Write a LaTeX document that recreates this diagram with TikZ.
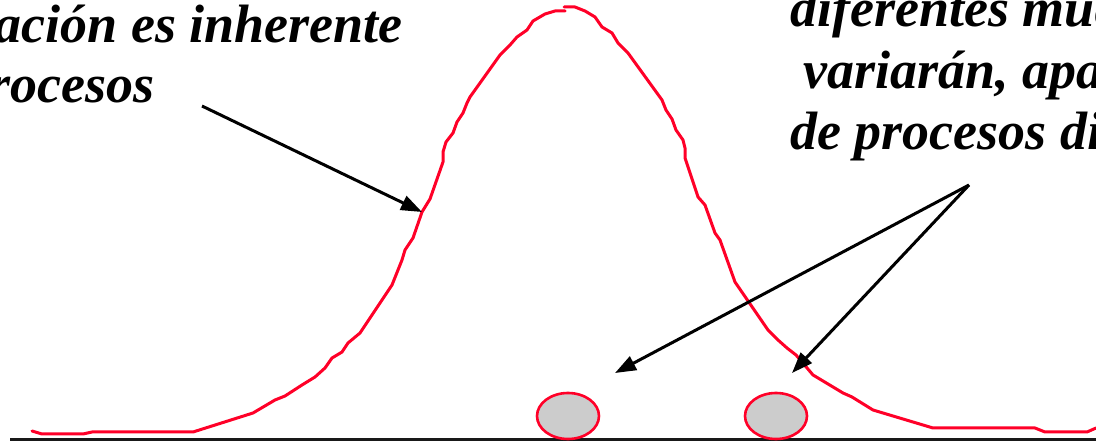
\documentclass[tikz,border=0pt]{standalone}
\usepackage{fontspec}
\setmainfont{Liberation Serif}
\usetikzlibrary{arrows.meta,shapes.geometric}
\definecolor{curvered}{RGB}{255,0,40}
\definecolor{dotgray}{RGB}{204,204,204}
\tikzset{
  lbl/.style={inner sep=0pt,font=\fontsize{54}{60}\selectfont\bfseries\itshape},
  pointer/.style={line width=3pt,draw=black,-{Triangle[length=21pt,width=15pt]}},
  dist/.style={draw=curvered,line width=3pt,line join=round,line cap=round},
  sample/.style={ellipse,draw=curvered,fill=dotgray,line width=2.6pt,minimum width=62pt,minimum height=46pt,inner sep=0pt},
  axis/.style={line width=3pt,draw=black!90}
}
\begin{document}
\begin{tikzpicture}[x=1pt,y=-1pt]
\useasboundingbox (0,0) rectangle (1096,446);
\clip (0,0) rectangle (1096,446);
\fill[white] (0,0) rectangle (1096,446);

% axis
\coordinate (ax1) at (10,440);
\coordinate (ax2) at (1096,440);
\draw[axis] (ax1) -- (ax2);

% distribution curve
\draw[dist] (32,431) -- (42,434) -- (83,434) -- (92,432) -- (193,432) -- (253,413) -- (275,400) -- (285,396) -- (302,385) -- (315,377) -- (325,368) -- (332,358) -- (342,352) -- (348,343) -- (360,333) -- (372,315) -- (392,285) -- (402,260) -- (405,250) -- (413,238) -- (422,212) -- (430,199) -- (443,162) -- (443,152) -- (446,142) -- (453,133) -- (457,122) -- (463,113) -- (467,103) -- (470,97) -- (500,55) -- (510,45) -- (517,37) -- (527,30) -- (533,21) -- (545,14) -- (555,11) -- (565,11);
\draw[dist] (564,7) -- (575,7) -- (585,11) -- (595,17) -- (602,27) -- (612,33) -- (618,43) -- (628,53) -- (662,100) -- (666,110) -- (672,119) -- (676,130) -- (683,140) -- (685,148) -- (685,158) -- (698,197) -- (705,205) -- (715,233) -- (720,240) -- (735,282) -- (768,330) -- (778,340) -- (787,348) -- (796,355) -- (813,375) -- (843,393) -- (852,397) -- (873,410) -- (933,428) -- (1035,428) -- (1045,432) -- (1087,432) -- (1096,428);

% samples
\node[sample] (s1) at (568,416) {};
\node[sample] (s2) at (776,416) {};

% texts
\node[lbl,anchor=base east] (t1) at (403,43) {variación es inherente};
\node[lbl,anchor=base east] (t2) at (155,103) {procesos};
\node[lbl,anchor=base west] (r1) at (790,27) {diferentes muestras};
\node[lbl,anchor=base west] (r2) at (803,89) {variarán, aparte};
\node[lbl,anchor=base west] (r3) at (790,150) {de procesos diferentes};

% arrows
\coordinate (p1s) at (202,106);
\coordinate (p1e) at (422,212);
\coordinate (apex) at (969,185);
\coordinate (p2e) at (615,373);
\coordinate (p3e) at (792,373);
\draw[pointer] (p1s) -- (p1e);
\draw[pointer] (apex) -- (p2e);
\draw[pointer] (apex) -- (p3e);
\end{tikzpicture}
\end{document}
